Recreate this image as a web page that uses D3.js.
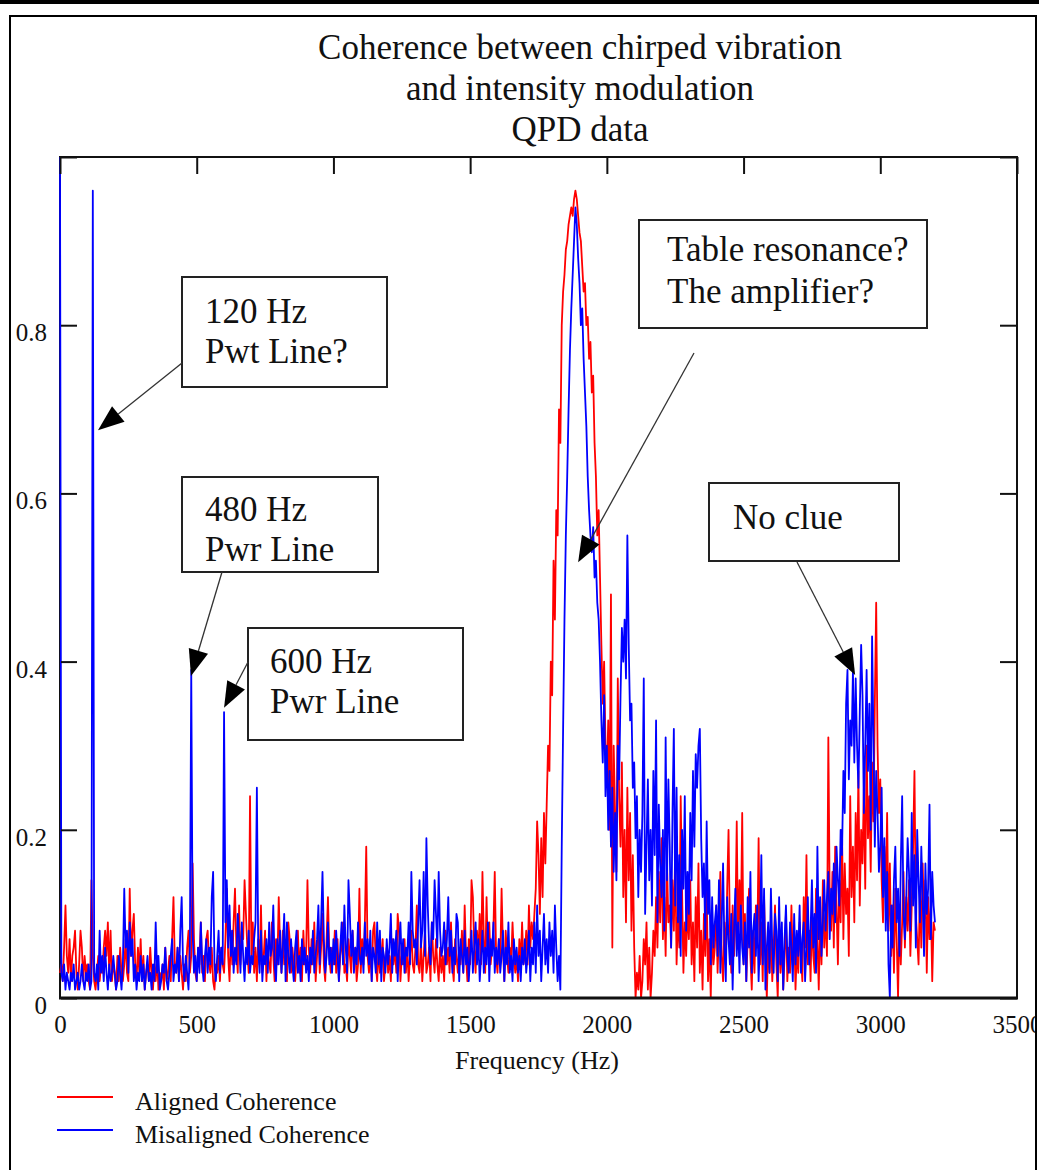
<!DOCTYPE html>
<html>
<head>
<meta charset="utf-8">
<script src="https://cdn.jsdelivr.net/npm/d3@7/dist/d3.min.js"></script>
<style>
  body { margin: 0; background: #fff; }
  svg { display: block; }
  text { font-family: "Liberation Serif", "Times New Roman", serif; fill: #111; }
</style>
</head>
<body>
<div id="chart"></div>
<script>
// coherence, in hundredths, one value every 5 Hz from 0 to 3200 Hz
const alignedPct = [
  3,4,2,6,11,5,3,7,2,5,6,8,3,1,4,8,6,2,5,3,
  4,2,1,14,5,2,1,3,5,2,4,3,6,8,5,9,3,8,2,4,
  3,1,5,2,6,3,2,4,7,3,2,13,5,8,10,4,2,6,3,7,
  2,5,1,3,4,2,6,3,1,4,2,5,1,3,2,4,1,6,2,3,
  5,2,7,12,4,3,6,2,5,3,1,4,2,6,8,3,5,16,7,3,
  2,6,4,9,3,5,2,7,8,4,3,6,2,1,4,3,5,2,6,4,
  3,7,13,5,2,8,4,9,13,6,3,11,4,8,7,14,10,6,3,24,
  5,9,3,6,2,7,4,11,3,5,8,2,6,4,3,9,5,2,7,4,
  12,6,3,8,4,5,2,9,7,3,6,4,2,5,8,3,6,2,8,4,
  5,14,6,3,7,4,9,2,5,8,3,6,10,4,2,7,12,5,3,6,
  4,8,3,7,2,5,6,9,3,4,2,7,5,3,8,4,6,2,4,13,
  3,7,4,9,18,5,3,6,2,8,9,4,2,6,3,5,7,2,4,6,
  3,5,2,7,4,6,3,10,8,2,5,4,7,3,6,2,5,8,4,3,
  6,11,4,3,7,2,5,8,3,4,6,2,9,5,3,7,4,2,6,3,
  5,2,8,4,6,3,9,4,2,7,5,3,6,4,8,3,11,5,2,7,
  4,14,12,6,3,8,5,10,4,15,7,3,12,5,9,4,6,8,15,5,
  3,7,4,13,6,2,8,5,3,6,4,9,5,3,5,2,7,4,9,4,
  5,8,4,11,6,9,7,10,13,21,17,10,19,12,22,16,23,30,27,40,
  36,52,45,58,55,70,66,80,84,86,89,90,92,93,94,93,95,96,95,93,
  91,90,87,84,85,80,81,76,78,72,74,66,62,55,58,50,42,35,40,30,
  26,33,20,48,6,30,22,15,38,24,18,28,12,20,9,25,14,22,8,17,
  6,0,3,1,5,0,2,7,4,9,1,6,0,3,8,5,12,6,15,9,
  19,7,12,5,16,9,11,6,14,8,18,4,10,6,24,13,3,9,5,11,
  7,14,4,9,2,12,6,16,3,8,1,10,5,13,2,7,0,9,4,6,
  11,3,8,15,5,2,9,4,13,20,8,3,11,5,9,21,6,14,8,22,
  4,10,2,7,13,5,1,8,3,11,6,19,4,9,2,12,5,0,7,3,
  8,2,6,11,4,0,9,3,7,1,5,10,2,6,3,11,4,8,1,6,
  3,9,5,2,12,6,17,4,8,2,10,5,3,13,7,1,9,4,14,6,
  10,5,31,12,8,15,6,18,11,4,14,9,20,7,16,10,13,5,24,12,
  18,9,22,14,27,11,20,16,25,13,30,19,24,15,28,21,35,47,30,22,
  26,14,9,18,12,22,8,16,5,11,3,13,7,0,10,4,9,15,6,12,
  8,14,5,11,18,27,10,7,4,13,6,16,9,14,3,12,7,11,2,9,
  8
];

const misalignedPct = [
  100,3,2,4,1,3,2,1,3,2,4,1,2,3,1,2,4,2,1,3,
  2,4,1,2,96,3,2,4,1,8,3,5,2,6,3,1,4,2,3,5,
  3,1,2,5,3,1,4,13,6,8,3,9,5,7,2,4,1,3,2,5,
  2,4,1,3,5,2,3,1,4,2,9,3,5,1,2,4,3,6,2,1,
  3,5,7,2,4,3,6,2,8,12,4,2,5,3,1,6,39,8,3,5,
  2,6,3,9,4,2,5,7,3,6,4,12,15,4,2,5,8,3,6,4,
  34,9,14,6,11,5,8,3,6,4,10,7,3,9,5,2,6,4,8,3,
  5,4,7,9,25,6,3,8,2,5,4,7,3,9,5,6,11,4,2,7,
  4,8,3,6,10,2,9,5,3,7,4,2,6,8,3,5,2,7,4,6,
  3,5,2,6,4,8,3,5,7,11,4,9,15,7,3,5,9,4,6,3,
  7,4,8,5,2,6,9,4,11,6,3,14,10,5,8,3,6,4,9,5,
  4,6,3,9,5,7,4,8,2,6,5,3,9,4,8,2,6,5,3,7,
  4,6,10,3,7,5,8,2,6,9,4,7,3,6,5,9,4,15,8,6,
  7,4,9,14,6,8,15,5,19,11,6,4,9,7,14,10,6,15,8,5,
  6,9,4,7,12,5,8,3,6,4,10,9,2,7,5,3,8,4,6,2,
  5,8,3,6,9,4,7,2,5,8,3,6,4,9,2,7,5,9,3,6,
  4,7,3,5,8,2,6,4,9,3,5,2,7,4,6,3,5,2,6,4,
  7,3,5,8,2,6,4,9,3,11,5,8,2,6,10,4,7,3,9,5,
  8,3,11,6,2,5,1,18,32,45,55,62,70,77,82,86,90,94,92,88,
  85,80,82,76,72,68,62,58,55,53,56,50,52,47,45,40,33,28,36,24,
  30,20,27,18,25,15,22,14,30,26,36,44,40,45,38,55,42,33,35,25,
  28,19,24,12,20,15,22,38,10,18,26,14,20,11,27,17,33,9,23,16,
  12,20,8,31,14,26,18,6,22,32,11,25,9,17,5,20,13,24,8,15,
  10,22,14,27,18,29,25,30,32,19,12,16,7,21,10,14,4,12,6,9,
  11,5,14,3,9,16,6,2,12,7,4,10,1,8,13,5,9,3,11,6,
  4,9,2,12,6,15,3,8,10,5,11,2,7,17,4,13,1,6,9,3,
  13,6,3,10,8,2,12,4,9,1,7,11,5,3,9,6,2,10,4,8,
  5,11,3,7,9,2,6,12,4,8,14,6,10,3,18,7,12,5,9,14,
  8,12,15,7,13,10,16,9,18,14,11,20,17,27,22,35,39,26,33,30,
  39,28,38,30,25,34,42,36,22,30,39,27,35,20,43,31,18,27,22,15,
  18,25,12,19,8,15,4,0,11,6,14,18,9,13,5,16,24,10,7,12,
  19,15,8,22,11,17,6,20,14,9,18,12,5,16,10,13,23,7,15,11,
  9
];

const freqStep = 5;
const xTicks = [0, 500, 1000, 1500, 2000, 2500, 3000, 3500];
const yTicks = [0, 0.2, 0.4, 0.6, 0.8, 1.0];
const yTickLabels = ["0", "0.2", "0.4", "0.6", "0.8", ""];
const titleLines = ["Coherence between chirped vibration", "and intensity modulation", "QPD data"];
const seriesNames = ["Aligned Coherence", "Misaligned Coherence"];
const seriesColors = ["#ff0000", "#0000ff"];

// callouts: text lines and the point (Hz, coherence) the arrow points at
const notes = [
  { lines: ["120 Hz", "Pwt Line?"], target: [139, 0.675] },
  { lines: ["480 Hz", "Pwr Line"], target: [479, 0.383] },
  { lines: ["600 Hz", "Pwr Line"], target: [600, 0.345] },
  { lines: ["Table resonance?", "The amplifier?"], target: [1895, 0.518] },
  { lines: ["No clue"], target: [2908, 0.384] }
];
// box placement of each callout on the page
const noteBoxes = [
  { x: 182, y: 277, w: 205, h: 110, tx: 205, ty: 323, dy: 40, from: [182, 363] },
  { x: 182, y: 477, w: 196, h: 95, tx: 205, ty: 521, dy: 40, from: [222, 572] },
  { x: 248, y: 628, w: 215, h: 112, tx: 270, ty: 673, dy: 40, from: [248, 662] },
  { x: 639, y: 220, w: 288, h: 108, tx: 667, ty: 261, dy: 42, from: [694, 353] },
  { x: 709, y: 483, w: 190, h: 78, tx: 733, ty: 529, dy: 40, from: [797, 562] }
];

const W = 1039, H = 1170;
const svg = d3.select("#chart").append("svg")
  .attr("width", W).attr("height", H);

svg.append("rect").attr("width", W).attr("height", H).attr("fill", "#fff");

// page frame
svg.append("rect").attr("x", 0).attr("y", 0).attr("width", W).attr("height", 4).attr("fill", "#000");
svg.append("path")
  .attr("d", "M10," + H + "V16H1036V" + H)
  .attr("fill", "none").attr("stroke", "#000").attr("stroke-width", 2);

const x = d3.scaleLinear().domain([0, 3500]).range([60, 1017]);
const y = d3.scaleLinear().domain([0, 1]).range([998, 157]);

// title
svg.append("g").selectAll("text")
  .data(titleLines)
  .enter().append("text")
  .attr("x", 580)
  .attr("y", (d, i) => 59 + i * 41)
  .attr("text-anchor", "middle")
  .attr("font-size", 35)
  .text(d => d);

// plot frame with inward ticks on all four sides
svg.append("rect")
  .attr("x", x(0)).attr("y", y(1))
  .attr("width", x(3500) - x(0)).attr("height", y(0) - y(1))
  .attr("fill", "none").attr("stroke", "#111").attr("stroke-width", 2);

// series lines (drawn over the left frame edge, as in the original)
svg.append("clipPath").attr("id", "plotclip")
  .append("rect").attr("x", 58).attr("y", 157).attr("width", 959).attr("height", 841);

const line = d3.line()
  .x((d, i) => x(i * freqStep))
  .y(d => y(d / 100));

const plot = svg.append("g").attr("clip-path", "url(#plotclip)");
[alignedPct, misalignedPct].forEach(function (s, k) {
  plot.append("path")
    .datum(s)
    .attr("d", line)
    .attr("fill", "none")
    .attr("stroke", seriesColors[k])
    .attr("stroke-width", 1.8)
    .attr("stroke-linejoin", "round");
});

svg.append("line")
  .attr("x1", x(0) - 1).attr("x2", x(3500) + 1).attr("y1", y(0)).attr("y2", y(0))
  .attr("stroke", "#111").attr("stroke-width", 3);

const axisBottom = svg.append("g").attr("transform", "translate(0," + y(0) + ")")
  .call(d3.axisBottom(x).tickValues(xTicks).tickSize(-17).tickPadding(21).tickFormat(d3.format("d")));
const axisTop = svg.append("g").attr("transform", "translate(0," + y(1) + ")")
  .call(d3.axisTop(x).tickValues(xTicks).tickSize(-17).tickFormat(""));
const axisLeft = svg.append("g").attr("transform", "translate(" + x(0) + ",0)")
  .call(d3.axisLeft(y).tickValues(yTicks).tickSize(-17).tickPadding(30).tickFormat((d, i) => yTickLabels[i]));
const axisRight = svg.append("g").attr("transform", "translate(" + x(3500) + ",0)")
  .call(d3.axisRight(y).tickValues(yTicks).tickSize(-17).tickFormat(""));

[axisBottom, axisTop, axisLeft, axisRight].forEach(function (a) {
  a.select(".domain").remove();
  a.selectAll(".tick line").attr("stroke", "#111").attr("stroke-width", 2);
  a.selectAll("text")
    .attr("font-family", "Liberation Serif, Times New Roman, serif")
    .attr("font-size", 25).attr("fill", "#111");
});
// keep the left ticks from hiding the blue trace on the axis
axisLeft.selectAll(".tick line").attr("x1", 1);
axisBottom.selectAll("text").attr("dy", "0.71em").attr("y", 17);
axisLeft.selectAll(".tick text").attr("x", -13).attr("dy", "0.62em");

// the 3500 label is cut by the page frame
svg.append("clipPath").attr("id", "pageclip")
  .append("rect").attr("x", 0).attr("y", 0).attr("width", 1035).attr("height", H);
axisBottom.attr("clip-path", "url(#pageclip)");

svg.append("text")
  .attr("x", 537).attr("y", 1069)
  .attr("text-anchor", "middle")
  .attr("font-size", 26)
  .text("Frequency (Hz)");

// legend
seriesNames.forEach(function (name, k) {
  const ly = 1097 + k * 33;
  svg.append("line")
    .attr("x1", 57).attr("x2", 113).attr("y1", ly).attr("y2", ly)
    .attr("stroke", seriesColors[k]).attr("stroke-width", 2);
  svg.append("text")
    .attr("x", 135).attr("y", ly + 13)
    .attr("font-size", 26)
    .text(name);
});

// callouts
notes.forEach(function (n, i) {
  const b = noteBoxes[i];
  const g = svg.append("g");
  g.append("rect")
    .attr("x", b.x).attr("y", b.y).attr("width", b.w).attr("height", b.h)
    .attr("fill", "#fff").attr("stroke", "#222").attr("stroke-width", 2);
  n.lines.forEach(function (t, j) {
    g.append("text")
      .attr("x", b.tx).attr("y", b.ty + j * b.dy)
      .attr("font-size", 35)
      .text(t);
  });
  const tx = x(n.target[0]), ty = y(n.target[1]);
  const fx = b.from[0], fy = b.from[1];
  const ang = Math.atan2(ty - fy, tx - fx);
  const len = 26, half = 10;
  const bx = tx - len * Math.cos(ang), by = ty - len * Math.sin(ang);
  g.append("line")
    .attr("x1", fx).attr("y1", fy).attr("x2", bx).attr("y2", by)
    .attr("stroke", "#333").attr("stroke-width", 1.3);
  const pts = [
    [tx, ty],
    [bx + half * Math.sin(ang), by - half * Math.cos(ang)],
    [bx - half * Math.sin(ang), by + half * Math.cos(ang)]
  ];
  g.append("polygon")
    .attr("points", pts.map(p => p.join(",")).join(" "))
    .attr("fill", "#000");
});
</script>
</body>
</html>
